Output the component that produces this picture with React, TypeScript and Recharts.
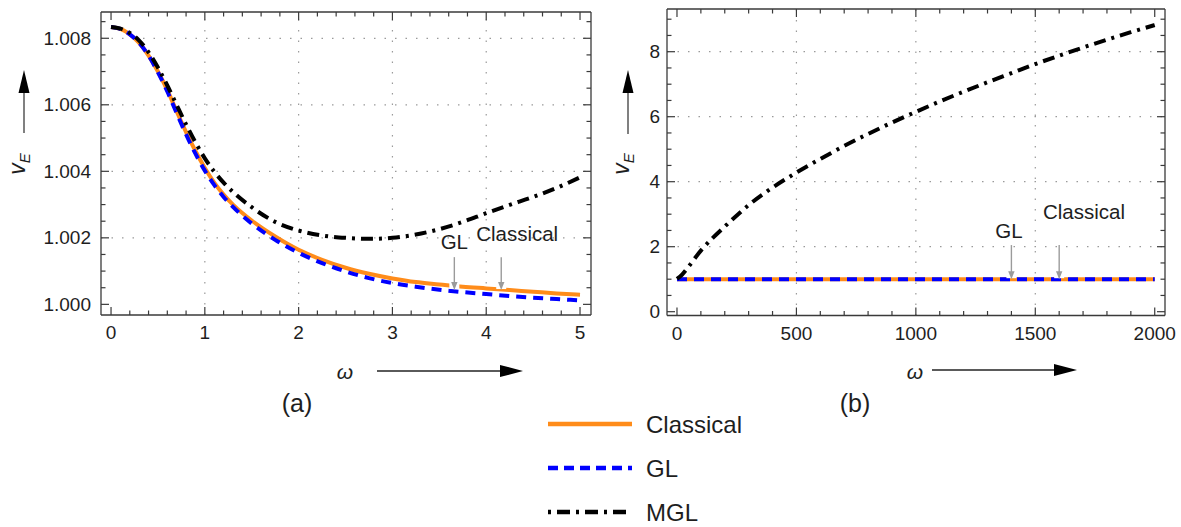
import React from 'react';
import { LineChart, Line, XAxis, YAxis, ReferenceLine, ReferenceDot } from 'recharts';

// ---------- Panel (a) data ----------
const omegaA = [0, 0.1, 0.2, 0.3, 0.4, 0.5, 0.6, 0.7, 0.8, 0.9, 1.0, 1.1, 1.2, 1.3, 1.5, 1.75, 2, 2.25, 2.5, 2.75, 3, 3.25, 3.5, 3.75, 4, 4.25, 4.5, 4.75, 5];
const classicalA = [1.00834, 1.00828, 1.00812, 1.00786, 1.00748, 1.007, 1.00644, 1.0058, 1.00518, 1.00461, 1.0041, 1.00366, 1.0033, 1.003, 1.00252, 1.00204, 1.00164, 1.00134, 1.0011, 1.00092, 1.00078, 1.00067, 1.0006, 1.00053, 1.00048, 1.00043, 1.00038, 1.00033, 1.00029];
const glA = [1.00834, 1.00828, 1.00812, 1.00786, 1.00748, 1.00698, 1.0064, 1.00575, 1.00511, 1.00453, 1.00402, 1.00359, 1.00323, 1.00293, 1.00243, 1.00194, 1.00155, 1.00124, 1.00099, 1.00079, 1.00064, 1.00053, 1.00044, 1.00037, 1.00031, 1.00025, 1.0002, 1.00016, 1.00012];
const mglA = [1.00834, 1.00829, 1.00816, 1.00793, 1.00758, 1.00712, 1.00658, 1.00599, 1.00541, 1.00487, 1.00439, 1.00399, 1.00366, 1.00338, 1.00292, 1.00248, 1.00222, 1.00207, 1.002, 1.00197, 1.002, 1.0021, 1.00226, 1.00248, 1.00274, 1.00299, 1.00323, 1.0035, 1.00382];

const xMajorA = [0, 1, 2, 3, 4, 5];
const xMinorA = [0.2, 0.4, 0.6, 0.8, 1.2, 1.4, 1.6, 1.8, 2.2, 2.4, 2.6, 2.8, 3.2, 3.4, 3.6, 3.8, 4.2, 4.4, 4.6, 4.8];
const yMajorA = [1.0, 1.002, 1.004, 1.006, 1.008];
const yMinorA = [1.0005, 1.001, 1.0015, 1.0025, 1.003, 1.0035, 1.0045, 1.005, 1.0055, 1.0065, 1.007, 1.0075, 1.0085];
const xGridA = [1, 2, 3, 4];
const yGridA = [1.002, 1.004, 1.006, 1.008];

// ---------- Panel (b) data ----------
const omegaB = [0, 20, 50, 100, 150, 200, 300, 400, 500, 600, 700, 800, 900, 1000, 1100, 1200, 1300, 1400, 1500, 1600, 1700, 1800, 1900, 2000];
const classicalB = [1, 1, 1, 1, 1, 1, 1, 1, 1, 1, 1, 1, 1, 1, 1, 1, 1, 1, 1, 1, 1, 1, 1, 1];
const glB = [1, 1, 1, 1, 1, 1, 1, 1, 1, 1, 1, 1, 1, 1, 1, 1, 1, 1, 1, 1, 1, 1, 1, 1];
const mglB = [1.01, 1.13, 1.4, 1.88, 2.27, 2.62, 3.28, 3.82, 4.28, 4.7, 5.1, 5.47, 5.82, 6.15, 6.47, 6.77, 7.06, 7.34, 7.62, 7.88, 8.13, 8.37, 8.6, 8.82];

const xMajorB = [0, 500, 1000, 1500, 2000];
const xMinorB = [100, 200, 300, 400, 600, 700, 800, 900, 1100, 1200, 1300, 1400, 1600, 1700, 1800, 1900];
const yMajorB = [0, 2, 4, 6, 8];
const yMinorB = [0.5, 1, 1.5, 2.5, 3, 3.5, 4.5, 5, 5.5, 6.5, 7, 7.5, 8.5, 9];
const xGridB = [500, 1000, 1500];
const yGridB = [2, 4, 6, 8];

// ---------- annotations ----------
const annotationsA = [
  { text: 'GL', w: 3.66, top: 1.00142, tip: 1.00043, labelW: 3.66, labelV: 1.00188 },
  { text: 'Classical', w: 4.16, top: 1.00142, tip: 1.00043, labelW: 4.33, labelV: 1.00214 },
];
const annotationsB = [
  { text: 'GL', w: 1400, top: 2.05, tip: 1.0, labelW: 1390, labelV: 2.51 },
  { text: 'Classical', w: 1600, top: 2.05, tip: 1.0, labelW: 1704, labelV: 3.08 },
];

const legendNames = ['Classical', 'GL', 'MGL'];

const rowsA = omegaA.map((w, i) => ({ w, classical: classicalA[i], gl: glA[i], mgl: mglA[i] }));
const rowsB = omegaB.map((w, i) => ({ w, classical: classicalB[i], gl: glB[i], mgl: mglB[i] }));

// ---------- styles ----------
const W = 1181;
const H = 527;
const FONT = "Arial, 'Liberation Sans', Helvetica, sans-serif";
const FRAME = '#3a3a3a';
const TEXT = '#1e1e1e';
const ORANGE = '#FF8C1A';
const BLUE = '#0000FF';
const BLACK = '#000000';
const GRID = '#9a9a9a';
const ANNOT = '#9b9b9b';

const seriesStyle = [
  { key: 'classical', color: ORANGE, dash: undefined as string | undefined, legendDash: undefined as string | undefined },
  { key: 'gl', color: BLUE, dash: '10 7', legendDash: '10 6' },
  { key: 'mgl', color: BLACK, dash: '12 6 3 6', legendDash: '3 6 13 6' },
];

type Side = 'bottom' | 'top' | 'left' | 'right';

function makeTick(side: Side, majors: number[], fmt: ((v: number) => string) | null, gap: number) {
  return (props: any) => {
    const { x, y, payload } = props;
    const v = Number(payload?.value);
    const major = majors.some((m) => Math.abs(m - v) < 1e-9);
    const len = major ? 8 : 4.5;
    let x2 = x;
    let y2 = y;
    if (side === 'bottom') y2 = y - len;
    if (side === 'top') y2 = y + len;
    if (side === 'left') x2 = x + len;
    if (side === 'right') x2 = x - len;
    let label: React.ReactNode = null;
    if (fmt && major) {
      if (side === 'bottom') {
        label = (
          <text x={x} y={y + gap} textAnchor="middle" dominantBaseline="central" fontSize={19} fontFamily={FONT} fill={TEXT}>
            {fmt(v)}
          </text>
        );
      } else if (side === 'left') {
        label = (
          <text x={x - gap} y={y} textAnchor="end" dominantBaseline="central" fontSize={19} fontFamily={FONT} fill={TEXT}>
            {fmt(v)}
          </text>
        );
      }
    }
    return (
      <g>
        <line x1={x} y1={y} x2={x2} y2={y2} stroke={FRAME} strokeWidth={1.2} />
        {label}
      </g>
    );
  };
}

const ArrowShape = (p: any) => {
  const { x1, y1, x2, y2 } = p;
  return (
    <g>
      <rect x={x2 - 5} y={y2 - 8} width={10} height={7} fill="#ffffff" />
      <line x1={x1} y1={y1} x2={x2} y2={y2 - 7} stroke={ANNOT} strokeWidth={1.4} />
      <polygon points={`${x2},${y2} ${x2 - 3.2},${y2 - 8} ${x2 + 3.2},${y2 - 8}`} fill={ANNOT} />
    </g>
  );
};

const labelShape = (text: string) => (p: any) => (
  <text x={p.cx} y={p.cy} textAnchor="middle" dominantBaseline="central" fontSize={20.5} fontFamily={FONT} fill={TEXT}>
    {text}
  </text>
);

type PanelProps = {
  rows: any[];
  margin: { top: number; right: number; bottom: number; left: number };
  leftWidth: number;
  xDomain: [number, number];
  yDomain: [number, number];
  xMajor: number[];
  xMinor: number[];
  yMajor: number[];
  yMinor: number[];
  xGrid: number[];
  yGrid: number[];
  xFmt: (v: number) => string;
  yFmt: (v: number) => string;
  yGap: number;
  xGap: number;
  annotations: typeof annotationsA;
};

function Panel(p: PanelProps) {
  const axisLine = { stroke: FRAME, strokeWidth: 1.3 };
  const xTicks = [...p.xMajor, ...p.xMinor];
  const yTicks = [...p.yMajor, ...p.yMinor];
  return (
    <LineChart width={W} height={H} data={p.rows} margin={p.margin}>
      <XAxis xAxisId="b" orientation="bottom" dataKey="w" type="number" domain={p.xDomain} allowDataOverflow ticks={xTicks} interval={0}
        tickLine={false} tickSize={0} tickMargin={0} height={1} axisLine={axisLine} tick={makeTick('bottom', p.xMajor, p.xFmt, p.xGap)} />
      <XAxis xAxisId="t" orientation="top" dataKey="w" type="number" domain={p.xDomain} allowDataOverflow ticks={xTicks} interval={0}
        tickLine={false} tickSize={0} tickMargin={0} height={1} axisLine={axisLine} tick={makeTick('top', p.xMajor, null, 0)} />
      <YAxis yAxisId="l" orientation="left" type="number" domain={p.yDomain} allowDataOverflow ticks={yTicks} interval={0}
        tickLine={false} tickSize={0} tickMargin={0} width={p.leftWidth} axisLine={axisLine} tick={makeTick('left', p.yMajor, p.yFmt, p.yGap)} />
      <YAxis yAxisId="r" orientation="right" type="number" domain={p.yDomain} allowDataOverflow ticks={yTicks} interval={0}
        tickLine={false} tickSize={0} tickMargin={0} width={1} axisLine={axisLine} tick={makeTick('right', p.yMajor, null, 0)} />

      {p.xGrid.map((v) => (
        <ReferenceLine key={'gx' + v} x={v} xAxisId="b" yAxisId="l" stroke={GRID} strokeWidth={1.2} strokeDasharray="1.5 9" />
      ))}
      {p.yGrid.map((v) => (
        <ReferenceLine key={'gy' + v} y={v} xAxisId="b" yAxisId="l" stroke={GRID} strokeWidth={1.2} strokeDasharray="1.5 9" />
      ))}

      {seriesStyle.map((s) => (
        <Line key={s.key} xAxisId="b" yAxisId="l" dataKey={s.key} type="monotone" stroke={s.color} strokeWidth={4}
          strokeDasharray={s.dash} dot={false} activeDot={false} isAnimationActive={false} />
      ))}

      {p.annotations.map((a) => (
        <ReferenceLine key={'ar' + a.text} xAxisId="b" yAxisId="l" segment={[{ x: a.w, y: a.top }, { x: a.w, y: a.tip }]} shape={ArrowShape} />
      ))}
      {p.annotations.map((a) => (
        <ReferenceDot key={'lb' + a.text} xAxisId="b" yAxisId="l" x={a.labelW} y={a.labelV} r={0} shape={labelShape(a.text)} />
      ))}
    </LineChart>
  );
}

const VLabel = ({ x, y }: { x: number; y: number }) => (
  <text transform={`rotate(-90 ${x} ${y})`} x={x} y={y} textAnchor="middle" fontSize={23} fontStyle="italic" fontFamily={FONT} fill={TEXT}>
    v<tspan fontSize={15} dy={5}>E</tspan>
  </text>
);

const UpArrow = ({ x, y0, y1 }: { x: number; y0: number; y1: number }) => (
  <g>
    <line x1={x} y1={y0} x2={x} y2={y1 + 22} stroke="#808080" strokeWidth={2} />
    <polygon points={`${x},${y1} ${x - 5.5},${y1 + 23} ${x + 5.5},${y1 + 23}`} fill="#000" />
  </g>
);

const RightArrow = ({ y, x0, x1 }: { y: number; x0: number; x1: number }) => (
  <g>
    <line x1={x0} y1={y} x2={x1 - 22} y2={y} stroke="#5a5a5a" strokeWidth={1.8} />
    <polygon points={`${x1},${y} ${x1 - 23},${y - 6} ${x1 - 23},${y + 6}`} fill="#000" />
  </g>
);

export default function App() {
  return (
    <div style={{ position: 'absolute', left: 0, top: 0, width: W, height: H, background: '#fff', fontFamily: FONT }}>
      <div style={{ position: 'absolute', left: 0, top: 0 }}>
        <Panel
          rows={rowsA}
          margin={{ top: 11, right: 589, bottom: 211, left: 0 }}
          leftWidth={101}
          xDomain={[-0.107, 5.117]}
          yDomain={[0.99968, 1.00879]}
          xMajor={xMajorA}
          xMinor={xMinorA}
          yMajor={yMajorA}
          yMinor={yMinorA}
          xGrid={xGridA}
          yGrid={yGridA}
          xFmt={(v) => String(v)}
          yFmt={(v) => v.toFixed(3)}
          yGap={10}
          xGap={17}
          annotations={annotationsA}
        />
      </div>
      <div style={{ position: 'absolute', left: 0, top: 0 }}>
        <Panel
          rows={rowsB}
          margin={{ top: 8, right: 15, bottom: 210.5, left: 666 }}
          leftWidth={1}
          xDomain={[-41.8, 2043]}
          yDomain={[-0.117, 9.314]}
          xMajor={xMajorB}
          xMinor={xMinorB}
          yMajor={yMajorB}
          yMinor={yMinorB}
          xGrid={xGridB}
          yGrid={yGridB}
          xFmt={(v) => String(v)}
          yFmt={(v) => String(v)}
          yGap={7}
          xGap={17.5}
          annotations={annotationsB}
        />
      </div>
      <svg width={W} height={H} style={{ position: 'absolute', left: 0, top: 0, pointerEvents: 'none' }}>
        <VLabel x={25} y={164} />
        <UpArrow x={24} y0={133} y1={70} />
        <VLabel x={629} y={164} />
        <UpArrow x={628} y0={134} y1={70} />

        <text x={345} y={371} textAnchor="middle" dominantBaseline="central" fontSize={21} fontStyle="italic" fontFamily={FONT} fill={TEXT}>ω</text>
        <RightArrow y={371} x0={377} x1={523} />
        <text x={915} y={371} textAnchor="middle" dominantBaseline="central" fontSize={21} fontStyle="italic" fontFamily={FONT} fill={TEXT}>ω</text>
        <RightArrow y={370} x0={932} x1={1077} />

        <text x={297} y={403} textAnchor="middle" dominantBaseline="central" fontSize={25} fontFamily={FONT} fill={TEXT}>(a)</text>
        <text x={855} y={403} textAnchor="middle" dominantBaseline="central" fontSize={25} fontFamily={FONT} fill={TEXT}>(b)</text>

        {legendNames.map((name, i) => {
          const s = seriesStyle[i];
          const y = 424 + i * 44;
          return (
            <g key={name}>
              <line x1={548} y1={y} x2={632} y2={y} stroke={s.color} strokeWidth={4.5} strokeDasharray={s.legendDash} />
              <text x={646} y={y} dominantBaseline="central" fontSize={24} fontFamily={FONT} fill={TEXT}>{name}</text>
            </g>
          );
        })}
      </svg>
    </div>
  );
}
